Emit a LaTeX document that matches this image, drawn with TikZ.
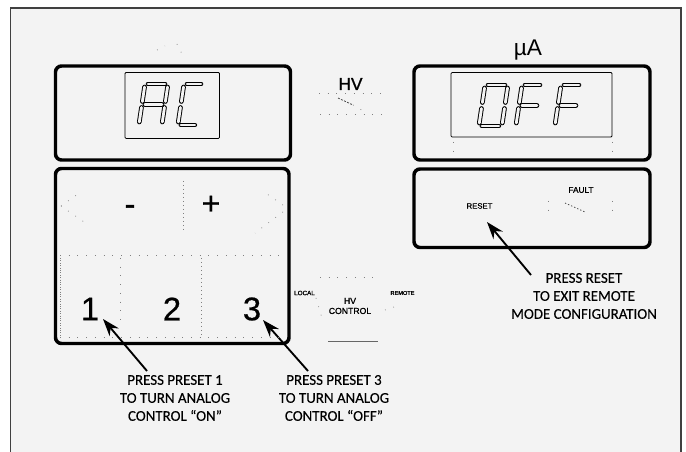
\documentclass[tikz,border=0pt]{standalone}
\usepackage{fontspec}
\setmainfont{Liberation Sans}
\newfontfamily\notefont[FakeBold=0.2]{Carlito}
\newfontfamily\heavyfont[FakeBold=1.2]{Liberation Sans}
\newfontfamily\midfont[FakeBold=0.6]{Liberation Sans}
\usetikzlibrary{arrows.meta}
\definecolor{panelbg}{gray}{0.953}
\definecolor{panelline}{gray}{0.25}
\definecolor{ghost}{gray}{0.5}
\newcommand{\pxfont}[2]{\fontsize{#1}{#2}\selectfont}
\newcommand{\sg}[4]{\draw[seglo] (#1,#2)--(#3,#4);\draw[segin] (#1,#2)--(#3,#4);}
\newcommand{\segT}{\sg{3}{0}{\dw-3}{0}}
\newcommand{\segM}{\sg{3}{20.5}{\dw-3}{20.5}}
\newcommand{\segB}{\sg{3}{41}{\dw-3}{41}}
\newcommand{\segUL}{\sg{0}{3}{0}{17.5}}
\newcommand{\segUR}{\sg{\dw}{3}{\dw}{17.5}}
\newcommand{\segLL}{\sg{0}{23.5}{0}{38}}
\newcommand{\segLR}{\sg{\dw}{23.5}{\dw}{38}}
\tikzset{
  panelbox/.style={draw=black,line width=2.6pt,rounded corners=4.5pt},
  lcdbox/.style={draw=black,line width=0.6pt,rounded corners=0.8pt},
  seglo/.style={draw=black,line width=3.5pt,line cap=round},
  segin/.style={draw=panelbg,line width=2.1pt,line cap=round},
  digitbox/.style={xslant=0.15},
  note/.style={font=\notefont\pxfont{11.2}{13.5},align=center,text=black,inner sep=0pt},
  keylabel/.style={font=\midfont\pxfont{24.5}{24.5},inner sep=0pt,text=black},
  tiny/.style={font=\heavyfont\pxfont{#1}{#1},inner sep=0pt,text=black},
  callout/.style={draw=black,line width=1.4pt,-{Stealth[length=13pt,width=9pt]}},
  speck/.style={draw=ghost,line width=0.55pt,dash pattern=on 0.55pt off 6pt}
}
\begin{document}
\begin{tikzpicture}[x=0.75pt,y=-0.75pt]
\useasboundingbox (0,0) rectangle (686,452);
\fill[white] (0,0) rectangle (686,452);
\path[fill=panelbg,draw=panelline,line width=0.8pt] (10.5,8) -- (681,8) -- (681,453) -- (10.5,453) -- cycle;

% boxes
\draw[panelbox] (55.5,66) rectangle (290.5,160) ;
\draw[panelbox] (55.5,168.5) rectangle (289,343.5);
\draw[panelbox] (414,66) rectangle (650,160);
\draw[panelbox] (414,169) rectangle (650,247.5);
\draw[lcdbox] (125,72.5) rectangle (219.5,138.5);
\draw[lcdbox] (451,72.5) rectangle (612,137);

% digit A
\def\dw{23}
\begin{scope}[shift={(145,84)},digitbox]
\segT\segM\segUL\segUR\segLL\segLR
\end{scope}
% digit C
\def\dw{20}
\begin{scope}[shift={(184,84)},digitbox]
\segT\segB\segUL\segLL
\end{scope}
% digit 0
\def\dw{23}
\begin{scope}[shift={(485,85)},digitbox]
\segT\segB\segUL\segUR\segLL\segLR
\end{scope}
% digits F F
\def\dw{21}
\begin{scope}[shift={(522,85)},digitbox]
\segT\segM\segUL\segLL
\end{scope}
\begin{scope}[shift={(561,85)},digitbox]
\segT\segM\segUL\segLL
\end{scope}

% labels
\node[inner sep=0pt,font=\pxfont{17}{17}] (ua) at (528,50) {\textmu A};
\node[tiny=13] (hv) at (350.5,84) {HV};
\node[tiny=5.8] (reset) at (479.5,206) {RESET};
\node[tiny=6.2] (fault) at (581,190) {FAULT};
\node[tiny=4.7] (local) at (304.5,293) {LOCAL};
\node[tiny=4.2] (remote) at (402.5,293) {REMOTE};
\node[font=\heavyfont\pxfont{6.5}{7.5},inner sep=0pt,align=center] (hvc) at (350,306) {HV\\CONTROL};

\node[font=\heavyfont\pxfont{24}{24},inner sep=0pt] (minus) at (130,210) {-};
\node[font=\midfont\pxfont{24}{24},inner sep=0pt] (plus) at (211,205) {+};
\node[keylabel] (k1) at (90,309) {1};
\node[keylabel] (k2) at (172,309) {2};
\node[keylabel] (k3) at (252,309) {3};

% notes
\node[note] (n1) at (175,398) {PRESS PRESET 1\\TO TURN ANALOG\\CONTROL “ON”};
\node[note] (n3) at (334,398) {PRESS PRESET 3\\TO TURN ANALOG\\CONTROL “OFF”};
\node[note] (n2) at (584,296) {PRESS RESET\\TO EXIT REMOTE\\MODE CONFIGURATION};

\coordinate (t1) at (103,319);
\coordinate (t3) at (263,320);
\coordinate (t2) at (487,222);
\coordinate (s1) at (147,371);
\coordinate (s3) at (308,371);
\coordinate (s2) at (531,275);
\draw[callout] (s1) -- (t1);
\draw[callout] (s3) -- (t3);
\draw[callout] (s2) -- (t2);

% faint traces
\draw[speck] (157,50) -- (165,46);
\draw[speck] (177,44) -- (182,54);
\draw[draw=black!70,line width=0.6pt,dash pattern=on 1.5pt off 1pt] (338,98) -- (353,105);
\draw[speck] (353,105) -- (365,112);
\draw[speck] (319,93) -- (385,93);
\draw[speck] (320,114) -- (385,114);
\draw[draw=ghost,line width=0.55pt,dash pattern=on 0.8pt off 2.2pt] (183,181) -- (183,231);
\draw[speck] (61,206) -- (87,224);
\draw[speck] (61,206) -- (78,194);
\draw[speck] (283,205) -- (267,194);
\draw[speck] (283,212) -- (255,233);
\draw[speck] (60,255) -- (285,255);
\draw[draw=ghost,line width=0.6pt,dash pattern=on 0.6pt off 1.2pt] (60,258) -- (60,335);
\draw[speck] (120,258) -- (120,325);
\draw[draw=ghost,line width=0.55pt,dash pattern=on 0.8pt off 2.2pt] (201,258) -- (201,335);
\draw[speck] (60,337) -- (285,337);
\draw[speck] (548,201) -- (548,215);
\draw[speck] (612,201) -- (612,215);
\draw[draw=black!70,line width=0.6pt,dash pattern=on 1pt off 1.5pt] (565,203) -- (585,212);
\draw[speck] (453,142) -- (453,153);
\draw[speck] (612,142) -- (612,153);
\draw[speck] (320,277) -- (380,277);
\draw[speck] (316,298) -- (322,318);
\draw[speck] (385,310) -- (400,305);
\draw[draw=black!60,line width=0.5pt] (328,341) -- (378,341);
\end{tikzpicture}
\end{document}
